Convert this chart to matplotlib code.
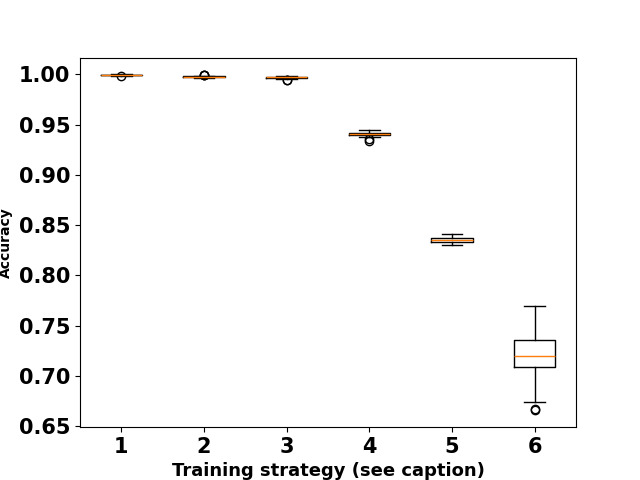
import matplotlib
matplotlib.use("Agg")
import matplotlib.pyplot as plt

# box statistics, one entry per training strategy
strategies = [1, 2, 3, 4, 5, 6]
medians = [0.9995, 0.9978, 0.9970, 0.9405, 0.8350, 0.7195]
q1s = [0.9992, 0.9973, 0.9962, 0.9393, 0.8333, 0.7085]
q3s = [0.9998, 0.9982, 0.9978, 0.9418, 0.8368, 0.7360]
whis_lo = [0.9988, 0.9968, 0.9952, 0.9380, 0.8305, 0.6740]
whis_hi = [1.0000, 0.9988, 0.9988, 0.9448, 0.8410, 0.7690]
fliers = [
    [0.9985],
    [0.9990, 0.9995, 0.9998],
    [0.9940, 0.9945],
    [0.9340, 0.9355],
    [],
    [0.6655, 0.6670],
]

stats = []
for i, s in enumerate(strategies):
    stats.append({
        "label": str(s),
        "med": medians[i],
        "q1": q1s[i],
        "q3": q3s[i],
        "whislo": whis_lo[i],
        "whishi": whis_hi[i],
        "fliers": fliers[i],
    })

fig, ax = plt.subplots(figsize=(6.4, 4.8), dpi=100)
ax.bxp(stats, positions=strategies, widths=0.5)
ax.set_xlabel("Training strategy (see caption)", fontsize=13, fontweight="bold")
ax.set_ylabel("Accuracy", fontsize=10, fontweight="bold")
ax.set_yticks([0.65, 0.70, 0.75, 0.80, 0.85, 0.90, 0.95, 1.00])
for lab in ax.get_xticklabels() + ax.get_yticklabels():
    lab.set_fontsize(15)
    lab.set_fontweight("bold")
fig.savefig("out.png", dpi=100)
